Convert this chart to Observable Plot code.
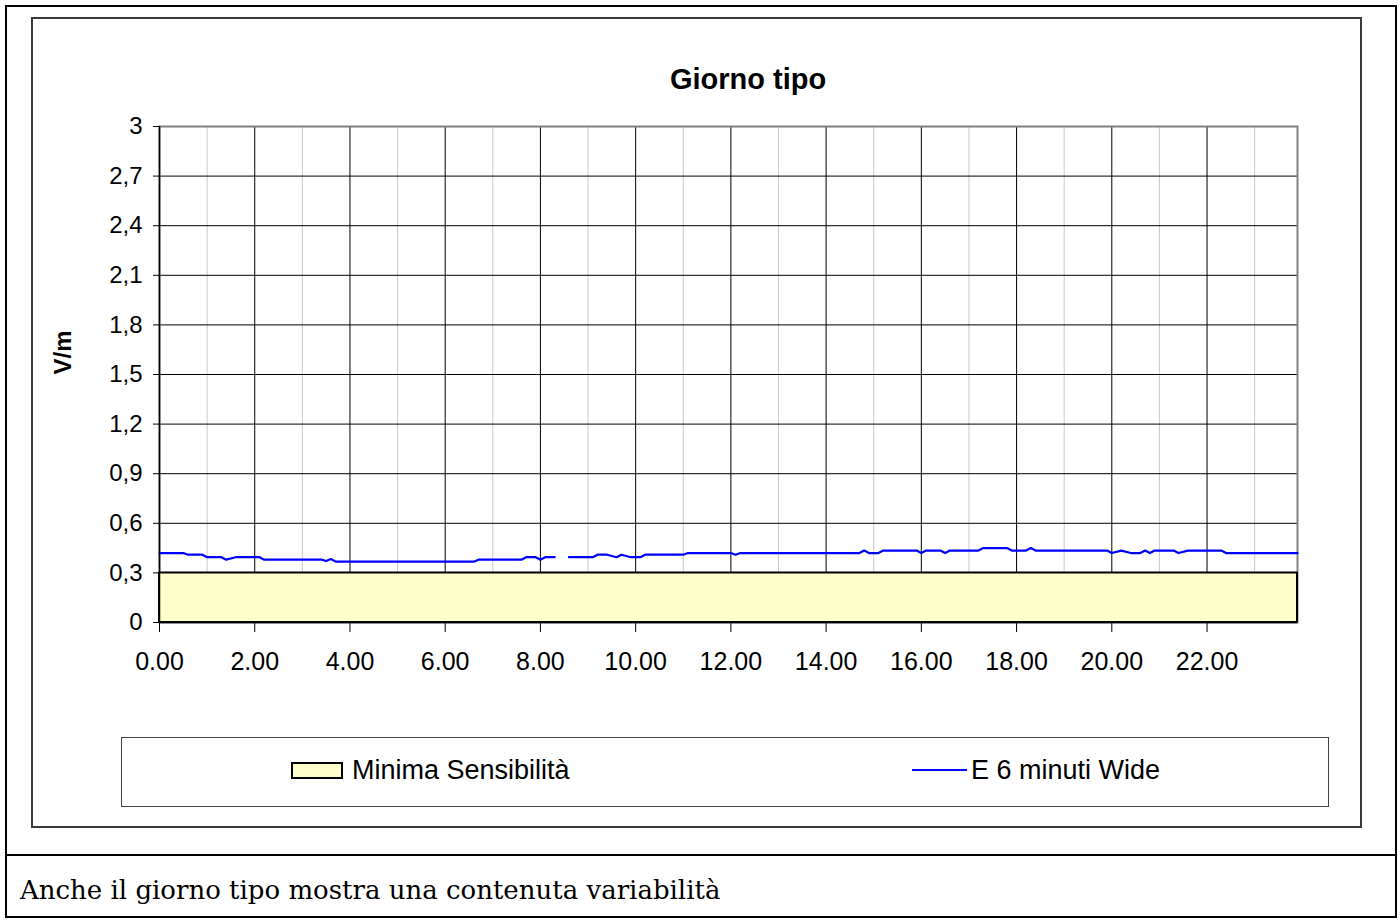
<!DOCTYPE html>
<html>
<head>
<meta charset="utf-8">
<script src="https://cdn.jsdelivr.net/npm/d3@7"></script>
<script src="https://cdn.jsdelivr.net/npm/@observablehq/plot@0.6"></script>
<style>
  html, body { margin: 0; padding: 0; background: #fff; }
  #page { position: relative; width: 1400px; height: 920px; overflow: hidden; font-family: "Liberation Sans", Arial, sans-serif; }
  .abs { position: absolute; box-sizing: border-box; }
  #outer { left: 5px; top: 5px; width: 1392px; height: 913px; border: 2px solid #000; }
  #inner { left: 31px; top: 17px; width: 1331px; height: 811px; border: 2px solid #3a3a3a; }
  #sep { left: 5px; top: 854px; width: 1392px; height: 2px; background: #000; }
  #title { left: 548px; top: 65px; width: 400px; text-align: center; font-weight: bold; font-size: 29px; line-height: 1; color: #000; }
  #legend { left: 121px; top: 737px; width: 1208px; height: 70px; border: 1.5px solid #444; }
  .lgtext { font-size: 27px; line-height: 1; color: #000; white-space: nowrap; }
  #caption { left: 20px; top: 877px; font-family: "DejaVu Serif", "Liberation Serif", serif; font-size: 26px; line-height: 1; color: #000; white-space: nowrap; }
  #chart { left: 0; top: 0; }
</style>
</head>
<body>
<div id="page">
  <div id="outer" class="abs"></div>
  <div id="inner" class="abs"></div>
  <div id="sep" class="abs"></div>
  <div id="title" class="abs">Giorno tipo</div>
  <div id="chart" class="abs"></div>
  <div id="legend" class="abs"></div>
  <div id="lg1sw" class="abs" style="left:291px;top:762px;width:52px;height:17px;background:#FFFFCC;border:2px solid #000;"></div>
  <div class="abs lgtext" style="left:352px;top:757px;">Minima Sensibilità</div>
  <div class="abs" style="left:912px;top:769px;width:55px;height:2px;background:#0000FF;"></div>
  <div class="abs lgtext" style="left:971px;top:757px;">E 6 minuti Wide</div>
  <div id="caption" class="abs">Anche il giorno tipo mostra una contenuta variabilità</div>
</div>
<script>
// ---- Data ----
const seriesLabel = "E 6 minuti Wide";
const areaLabel = "Minima Sensibilità";
// breakpoints of the 6-minute typical-day series (hour of day, V/m); null = gap
const hours = [0.0, 0.5, 0.6, 0.9, 1.0, 1.3, 1.4, 1.6, 2.1, 2.2, 3.4, 3.5, 3.6, 3.7, 6.6, 6.7, 7.6, 7.7, 7.9, 8.0, 8.1, 8.3, 8.4, 8.6, 9.1, 9.2, 9.4, 9.6, 9.7, 9.9, 10.1, 10.2, 11.0, 11.1, 12.0, 12.1, 12.2, 14.7, 14.8, 14.9, 15.1, 15.2, 15.9, 16.0, 16.1, 16.4, 16.5, 16.6, 17.2, 17.3, 17.8, 17.9, 18.2, 18.3, 18.4, 19.9, 20.0, 20.2, 20.4, 20.6, 20.7, 20.8, 20.9, 21.3, 21.4, 21.6, 22.3, 22.4, 23.9];
const values = [0.42, 0.42, 0.41, 0.41, 0.395, 0.395, 0.38, 0.395, 0.395, 0.38, 0.38, 0.372, 0.384, 0.368, 0.368, 0.38, 0.38, 0.395, 0.395, 0.38, 0.395, 0.395, null, 0.395, 0.395, 0.41, 0.41, 0.395, 0.41, 0.395, 0.395, 0.41, 0.41, 0.42, 0.42, 0.41, 0.42, 0.42, 0.435, 0.42, 0.42, 0.435, 0.435, 0.42, 0.435, 0.435, 0.42, 0.435, 0.435, 0.45, 0.45, 0.435, 0.435, 0.45, 0.435, 0.435, 0.42, 0.435, 0.42, 0.42, 0.435, 0.42, 0.435, 0.435, 0.42, 0.435, 0.435, 0.42, 0.42];
// minimum sensitivity threshold band
const sensHours = [0, 23.9];
const sensValues = [0.3, 0.3];
// axes
const xDomain = [0, 23.9];
const xMajorTicks = [0, 2, 4, 6, 8, 10, 12, 14, 16, 18, 20, 22];
const xMinorTicks = [1, 3, 5, 7, 9, 11, 13, 15, 17, 19, 21, 23];
const yTicks = [0, 0.3, 0.6, 0.9, 1.2, 1.5, 1.8, 2.1, 2.4, 2.7, 3];
const yDomain = [0, 3];
const yLabel = "V/m";

const lineData = hours.map((h, i) => ({h, v: values[i]}));
const areaData = sensHours.map((h, i) => ({h, v: sensValues[i]}));

const chart = Plot.plot({
  width: 1400,
  height: 700,
  marginLeft: 159,
  marginRight: 103,
  marginTop: 126,
  marginBottom: 78,
  style: {background: "transparent", fontFamily: "'Liberation Sans', Arial, sans-serif", color: "#000"},
  x: {domain: xDomain},
  y: {domain: yDomain},
  marks: [
    Plot.gridX(xMinorTicks, {stroke: "#c8c8c8", strokeOpacity: 1, strokeWidth: 1}),
    Plot.gridX(xMajorTicks, {stroke: "#000", strokeOpacity: 1, strokeWidth: 1}),
    Plot.gridY(yTicks, {stroke: "#000", strokeOpacity: 1, strokeWidth: 1}),
    Plot.frame({stroke: "#808080", strokeWidth: 2}),
    Plot.areaY(areaData, {x: "h", y: "v", fill: "#FFFFCC", stroke: "#000", strokeWidth: 2}),
    Plot.line(lineData, {x: "h", y: "v", stroke: "#0000FF", strokeWidth: 2.2}),
    Plot.ruleX([0], {stroke: "#000", strokeWidth: 1.5}),
    Plot.ruleY([0], {stroke: "#000", strokeWidth: 1.5}),
    Plot.axisX(xMajorTicks, {tickSize: 10, tickPadding: 20, fontSize: 25, tickFormat: d => d.toFixed(2), label: null, stroke: "#000"}),
    Plot.axisY(yTicks, {tickSize: 6, tickPadding: 11, fontSize: 24, tickFormat: d => String(d).replace(".", ","), label: null, stroke: "#000"}),
    Plot.text([yLabel], {frameAnchor: "left", dx: -96, rotate: -90, fontSize: 24, fontWeight: "bold", fill: "#000"})
  ]
});
document.getElementById("chart").appendChild(chart);
</script>
</body>
</html>
